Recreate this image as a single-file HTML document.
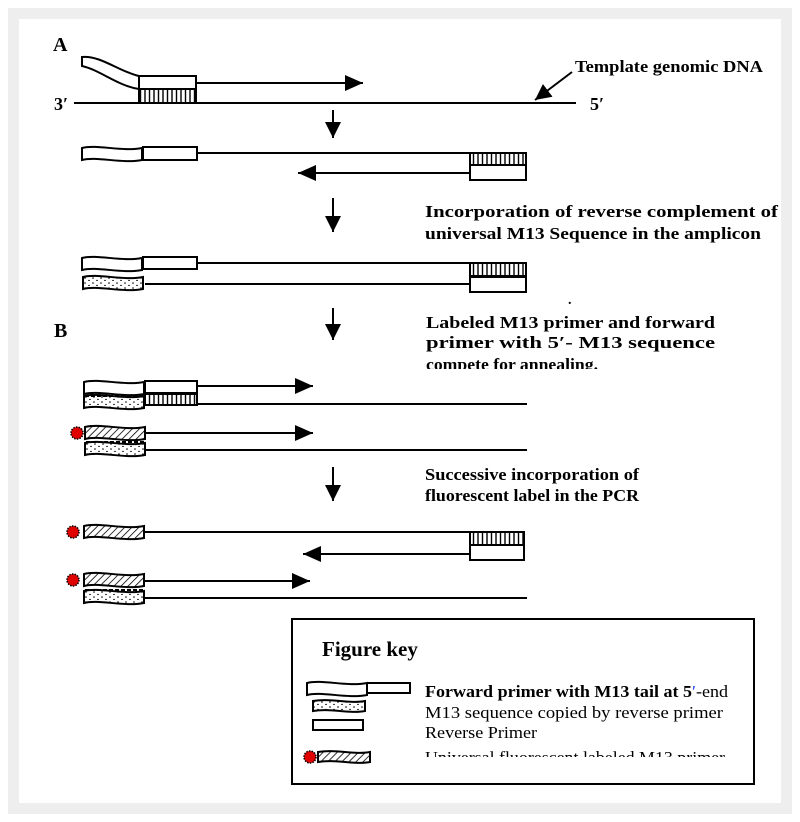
<!DOCTYPE html>
<html><head><meta charset="utf-8"><style>
html,body{margin:0;padding:0;background:#fff;}
svg{display:block;}
text{font-family:"Liberation Serif",serif;fill:#000;}
</style></head><body>
<svg width="800" height="822" viewBox="0 0 800 822" xmlns="http://www.w3.org/2000/svg">
<defs>
<pattern id="hatch" width="5" height="5" patternUnits="userSpaceOnUse" patternTransform="rotate(45)">
<rect width="5" height="5" fill="#fff"/><line x1="0" y1="0" x2="0" y2="5" stroke="#000" stroke-width="1.6"/></pattern>
<pattern id="dots" width="8" height="5" patternUnits="userSpaceOnUse">
<rect width="8" height="5" fill="#fff"/><circle cx="2" cy="2" r="0.8" fill="#000"/><circle cx="6" cy="4.5" r="0.8" fill="#000"/></pattern>
<pattern id="vl" width="4.5" height="10" patternUnits="userSpaceOnUse">
<rect width="4.5" height="10" fill="#fff"/><line x1="1" y1="0" x2="1" y2="10" stroke="#000" stroke-width="1.4"/></pattern>
<path id="tail" d="M0,1 C15,-3 40,5 60,1 L60,13 C40,17 15,9 0,13 Z" stroke="#000" stroke-width="2"/>
<marker id="ah" markerUnits="userSpaceOnUse" markerWidth="20" markerHeight="20" refX="18" refY="8" orient="auto">
<polygon points="0,0 18,8 0,16" fill="#000"/></marker>
<marker id="dh" markerUnits="userSpaceOnUse" markerWidth="20" markerHeight="20" refX="16" refY="8" orient="auto">
<polygon points="0,0 16,8 0,16" fill="#000"/></marker>
</defs>
<rect x="8" y="8" width="784" height="806" fill="#eeeeee"/>
<rect x="19" y="19" width="762" height="784" fill="#fff"/>
<g stroke="#000" stroke-width="2" fill="none">
<line x1="74" y1="103" x2="576" y2="103"/>
<path d="M82,57 C100,55 120,72 139,76 L139,89 C118,86 100,70 82,66 Z" fill="#fff"/>
<rect x="139" y="76" width="57" height="13" fill="#fff"/>
<rect x="139" y="89" width="57" height="14" fill="url(#vl)"/>
<line x1="196" y1="83" x2="363" y2="83" marker-end="url(#ah)"/>
<line x1="572" y1="72" x2="535" y2="100" marker-end="url(#dh)"/>
<line x1="333" y1="110" x2="333" y2="138" marker-end="url(#dh)"/>
<use href="#tail" x="82" y="147" fill="#fff"/>
<rect x="143" y="147" width="54" height="13" fill="#fff"/>
<line x1="197" y1="153" x2="526" y2="153"/>
<rect x="470" y="153" width="56" height="12" fill="url(#vl)"/>
<rect x="470" y="165" width="56" height="15" fill="#fff"/>
<line x1="470" y1="173" x2="298" y2="173" marker-end="url(#ah)"/>
<line x1="333" y1="198" x2="333" y2="232" marker-end="url(#dh)"/>
<use href="#tail" x="82" y="257" fill="#fff"/>
<rect x="143" y="257" width="54" height="12" fill="#fff"/>
<line x1="197" y1="263" x2="526" y2="263"/>
<rect x="470" y="263" width="56" height="13" fill="url(#vl)"/>
<rect x="470" y="277" width="56" height="15" fill="#fff"/>
<use href="#tail" x="83" y="276" fill="url(#dots)"/>
<line x1="145" y1="284" x2="470" y2="284"/>
<line x1="333" y1="308" x2="333" y2="340" marker-end="url(#dh)"/>
<use href="#tail" x="84" y="381" fill="#fff"/>
<rect x="145" y="381" width="52" height="12" fill="#fff"/>
<line x1="197" y1="386" x2="313" y2="386" marker-end="url(#ah)"/>
<use href="#tail" x="84" y="395" fill="url(#dots)"/>
<line x1="85" y1="396" x2="145" y2="396" stroke-dasharray="4,2"/>
<rect x="145" y="394" width="52" height="11" fill="url(#vl)"/>
<line x1="197" y1="404" x2="527" y2="404"/>
<use href="#tail" x="85" y="426" fill="url(#hatch)"/>
<line x1="146" y1="433" x2="313" y2="433" marker-end="url(#ah)"/>
<use href="#tail" x="85" y="442" fill="url(#dots)"/>
<line x1="86" y1="442" x2="146" y2="442" stroke-dasharray="4,2"/>
<line x1="146" y1="450" x2="527" y2="450"/>
<line x1="333" y1="467" x2="333" y2="501" marker-end="url(#dh)"/>
<use href="#tail" x="84" y="525" fill="url(#hatch)"/>
<line x1="143" y1="532" x2="470" y2="532"/>
<rect x="470" y="532" width="54" height="13" fill="url(#vl)"/>
<rect x="470" y="545" width="54" height="15" fill="#fff"/>
<line x1="470" y1="554" x2="303" y2="554" marker-end="url(#ah)"/>
<use href="#tail" x="84" y="573" fill="url(#hatch)"/>
<line x1="143" y1="581" x2="310" y2="581" marker-end="url(#ah)"/>
<use href="#tail" x="84" y="590" fill="url(#dots)"/>
<line x1="85" y1="590" x2="143" y2="590" stroke-dasharray="4,2"/>
<line x1="143" y1="598" x2="527" y2="598"/>
<rect x="292" y="619" width="462" height="165" fill="#fff"/>
<use href="#tail" x="307" y="682" fill="#fff"/>
<rect x="367" y="683" width="43" height="10" fill="#fff"/>
<path d="M313,701 C330,698 350,704 365,701 L365,711 C350,714 330,708 313,711 Z" fill="url(#dots)"/>
<rect x="313" y="720" width="50" height="10" fill="#fff"/>
<path d="M318,752 C335,749 355,755 370,752 L370,762 C355,765 335,759 318,762 Z" fill="url(#hatch)"/>
</g>
<g fill="#e00000" stroke="#000" stroke-width="1.5" stroke-dasharray="1.5,1.2">
<circle cx="77" cy="433" r="6"/>
<circle cx="73" cy="532" r="6"/>
<circle cx="73" cy="580" r="6"/>
<circle cx="310" cy="757" r="6"/>
</g>
<g font-weight="bold">
<text x="53" y="51" font-size="20">A</text>
<text x="54" y="337" font-size="20">B</text>
<text x="54" y="110" font-size="18">3′</text>
<text x="590" y="110" font-size="18">5′</text>
<text x="575" y="72" font-size="17" textLength="188" lengthAdjust="spacingAndGlyphs">Template genomic DNA</text>
<text x="425" y="217" font-size="17" textLength="353" lengthAdjust="spacingAndGlyphs">Incorporation of reverse complement of</text>
<text x="425" y="239" font-size="17" textLength="336" lengthAdjust="spacingAndGlyphs">universal M13 Sequence in the amplicon</text>
<text x="568" y="304" font-size="14">.</text>
<text x="426" y="328" font-size="17" textLength="289" lengthAdjust="spacingAndGlyphs">Labeled M13 primer and forward</text>
<text x="426" y="348" font-size="17" textLength="289" lengthAdjust="spacingAndGlyphs">primer with 5′- M13 sequence</text>
<text x="426" y="370" font-size="17" textLength="172" lengthAdjust="spacingAndGlyphs">compete for annealing.</text>
<text x="425" y="480" font-size="17" textLength="214" lengthAdjust="spacingAndGlyphs">Successive incorporation of</text>
<text x="425" y="501" font-size="17" textLength="214" lengthAdjust="spacingAndGlyphs">fluorescent label in the PCR</text>
<text x="322" y="656" font-size="21">Figure key</text>
<text x="425" y="697" font-size="17" textLength="303" lengthAdjust="spacingAndGlyphs">Forward primer with M13 tail at 5<tspan fill="#2040ff" font-weight="normal">′</tspan><tspan font-weight="normal">-end</tspan></text>
</g>
<g font-size="17">
<text x="425" y="718" textLength="298" lengthAdjust="spacingAndGlyphs">M13 sequence copied by reverse primer</text>
<text x="425" y="738" textLength="112" lengthAdjust="spacingAndGlyphs">Reverse Primer</text>
<text x="425" y="763" textLength="300" lengthAdjust="spacingAndGlyphs">Universal fluorescent labeled M13 primer</text>
</g>
<rect x="420" y="757" width="320" height="10" fill="#fff"/>
<rect x="420" y="369" width="200" height="6" fill="#fff"/>
</svg>
</body></html>
